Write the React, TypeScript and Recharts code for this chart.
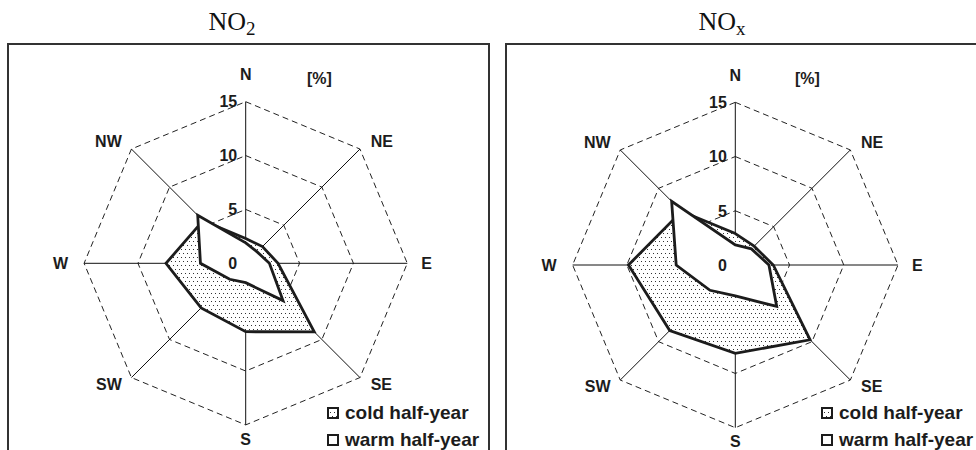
import React from "react";
import { RadarChart, Radar, PolarGrid, PolarAngleAxis, PolarRadiusAxis, Legend } from "recharts";

// wind sectors, clockwise from north
const directions = ["N", "NE", "E", "SE", "S", "SW", "W", "NW"];

// share of concentration by wind sector [%]
const no2Cold = [2.3, 2.2, 3.0, 9.0, 6.35, 5.85, 7.4, 5.6];
const no2Warm = [1.9, 1.5, 2.2, 4.9, 1.8, 2.1, 4.2, 6.3];
const noxCold = [2.9, 2.45, 3.5, 9.75, 8.15, 8.55, 9.85, 7.0];
const noxWarm = [1.85, 2.1, 3.1, 5.4, 2.85, 3.3, 5.45, 8.3];

const radiusTicks = [0, 5, 10, 15];

const LABEL_FONT = "'Liberation Sans', Arial, sans-serif";
const INK = "#1c1c1c";

// where each sector name sits relative to the end of its spoke
const LABEL_OFFSETS: Record<string, [number, number, "start" | "middle" | "end"]> = {
  N: [0, -19, "middle"],
  NE: [5, -2, "start"],
  E: [6, 0, "start"],
  SE: [5, 1, "start"],
  S: [0, 6, "middle"],
  SW: [-4, 1, "end"],
  W: [-8, 0, "end"],
  NW: [-4, -2, "end"],
};

const buildRows = (cold: number[], warm: number[]) =>
  directions.map((dir, i) => ({ dir, cold: cold[i], warm: warm[i] }));

function DirectionTick(props: any) {
  const { x, y, payload } = props;
  const [dx, dy, anchor] = LABEL_OFFSETS[payload.value] ?? [0, 0, "middle"];
  return (
    <text
      x={x + dx}
      y={y + dy}
      dy="0.36em"
      textAnchor={anchor}
      fontFamily={LABEL_FONT}
      fontWeight="bold"
      fontSize={16}
      fill={INK}
    >
      {payload.value}
    </text>
  );
}

function RadiusTick(props: any) {
  const { x, y, payload } = props;
  return (
    <text
      x={x - 8.5}
      y={y}
      dy="0.36em"
      textAnchor="end"
      fontFamily={LABEL_FONT}
      fontWeight="bold"
      fontSize={16}
      fill={INK}
    >
      {payload.value}
    </text>
  );
}

function LegendIcon({ dotted }: { dotted: boolean }) {
  return (
    <svg width={12} height={12} style={{ display: "block" }}>
      <rect x={1} y={1} width={10} height={10} fill={dotted ? "url(#dotFill)" : "#fff"} stroke={INK} strokeWidth={2} />
    </svg>
  );
}

const renderLegend = () => (
  <div style={{ fontFamily: LABEL_FONT, fontWeight: "bold", fontSize: 19, color: INK }}>
    {[
      { label: "cold half-year", dotted: true },
      { label: "warm half-year", dotted: false },
    ].map((item) => (
      <div key={item.label} style={{ display: "flex", alignItems: "center", height: 27, gap: 6, whiteSpace: "nowrap" }}>
        <LegendIcon dotted={item.dotted} />
        <span>{item.label}</span>
      </div>
    ))}
  </div>
);

type PanelProps = {
  cold: number[];
  warm: number[];
  left: number;
  width: number;
  cx: number;
  cy: number;
  radius: number;
  legendLeft: number;
};

function WindRose({ cold, warm, left, width, cx, cy, radius, legendLeft }: PanelProps) {
  const rows = buildRows(cold, warm);
  return (
    <div style={{ position: "absolute", left, top: 0 }}>
      <RadarChart
        width={width}
        height={450}
        data={rows}
        cx={cx}
        cy={cy}
        outerRadius={radius}
        margin={{ top: 0, right: 0, bottom: 0, left: 0 }}
      >
        <PolarGrid gridType="polygon" radialLines={false} stroke="#222" strokeWidth={1} strokeDasharray="6 4" />
        <PolarAngleAxis dataKey="dir" axisLine={false} tickLine={false} tickSize={0} tick={<DirectionTick />} />
        <PolarRadiusAxis
          angle={90}
          domain={[0, 15]}
          ticks={radiusTicks as any}
          tickCount={4}
          axisLine={false}
          tickLine={false}
          tick={<RadiusTick />}
        />
        <Radar
          name="cold half-year"
          dataKey="cold"
          stroke={INK}
          strokeWidth={2.8}
          fill="url(#dotFill)"
          fillOpacity={1}
          dot={false}
          isAnimationActive={false}
        />
        <Radar
          name="warm half-year"
          dataKey="warm"
          stroke={INK}
          strokeWidth={2.8}
          fill="#ffffff"
          fillOpacity={1}
          dot={false}
          isAnimationActive={false}
        />
        {/* spokes drawn over the filled areas */}
        <PolarGrid gridType="polygon" polarRadius={[]} radialLines stroke="#111" strokeWidth={1} />
        <Legend
          content={renderLegend}
          wrapperStyle={{ position: "absolute", left: legendLeft, top: 399.5, width: "auto", bottom: "auto" }}
        />
      </RadarChart>
    </div>
  );
}

function Title({ main, sub, center }: { main: string; sub: string; center: number }) {
  return (
    <div
      style={{
        position: "absolute",
        left: center - 100,
        width: 200,
        top: 9,
        textAlign: "center",
        fontFamily: "'Liberation Serif', 'Times New Roman', serif",
        fontSize: 26,
        lineHeight: "26px",
        color: "#111",
      }}
    >
      {main}
      <span style={{ fontSize: 19, position: "relative", top: 5 }}>{sub}</span>
    </div>
  );
}

const percentStyle: React.CSSProperties = {
  position: "absolute",
  top: 70,
  fontFamily: LABEL_FONT,
  fontWeight: "bold",
  fontSize: 16,
  color: INK,
};

export default function App() {
  return (
    <div style={{ position: "absolute", left: 0, top: 0, width: 976, height: 450, overflow: "hidden", background: "#fff" }}>
      <svg width={0} height={0} style={{ position: "absolute" }}>
        <defs>
          <pattern id="dotFill" width={4} height={8} patternUnits="userSpaceOnUse">
            <rect width={4} height={8} fill="#fff" />
            <rect x={1} y={1} width={1} height={1} fill="#333" />
            <rect x={3} y={5} width={1} height={1} fill="#333" />
          </pattern>
        </defs>
      </svg>

      <div style={{ position: "absolute", left: 7, top: 43, width: 483, height: 440, border: "2px solid #333", boxSizing: "border-box" }} />
      <div style={{ position: "absolute", left: 505, top: 43, width: 520, height: 440, border: "2px solid #333", boxSizing: "border-box" }} />

      <Title main="NO" sub="2" center={232} />
      <Title main="NO" sub="x" center={722} />

      <div style={{ ...percentStyle, left: 307 }}>[%]</div>
      <div style={{ ...percentStyle, left: 795 }}>[%]</div>

      <WindRose cold={no2Cold} warm={no2Warm} left={0} width={490} cx={245.7} cy={263.3} radius={161.6} legendLeft={327} />
      <WindRose cold={noxCold} warm={noxWarm} left={490} width={486} cx={245.3} cy={265} radius={162.7} legendLeft={331} />
    </div>
  );
}
